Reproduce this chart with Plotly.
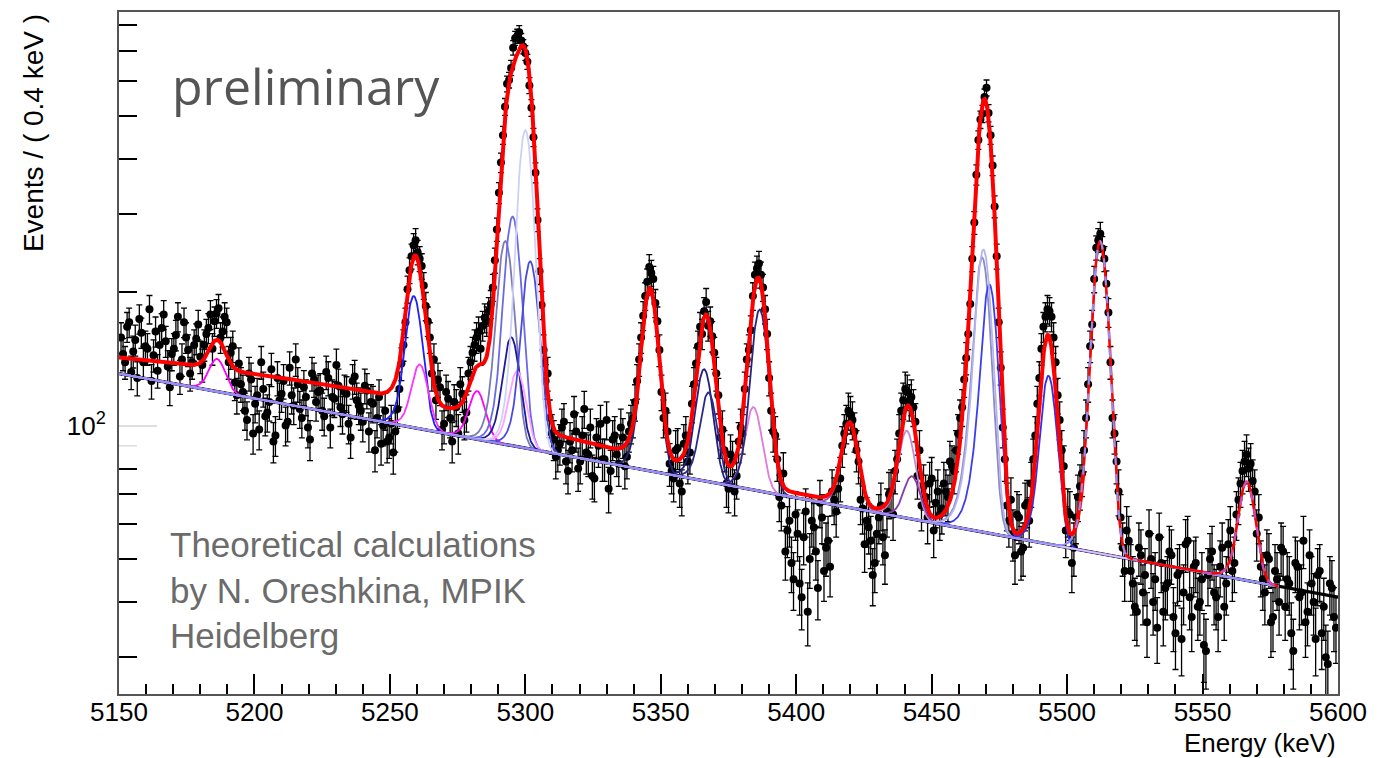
import numpy as np
import plotly.graph_objects as go

# ---------------- measured spectrum (counts per 0.4 keV bin) ----------------
# series 1: bins centred at 5150.75 + 1.5*i keV
grid1_first, grid1_step = 5150.75, 1.5
counts_a = [158, 139, 171, 147, 128, 162, 151, 183, 144, 133, 166, 155, 122, 149, 176, 141, 158, 131, 152, 169, 137,
            161, 178, 172, 184, 163, 171, 146, 125]
counts_b = [138, 119, 103, 127, 112, 98, 121, 107, 134, 95, 114, 126, 102, 117, 141, 109, 122, 99, 131, 113, 120, 105,
            128, 116, 137, 110, 119, 101, 126, 114, 108, 123, 97, 112, 104, 91, 108]
counts_c = [94, 87, 109, 138, 171, 224, 255, 246, 229, 186, 158, 141, 127, 98, 119, 104, 113]
counts_d = [96, 118, 107, 139, 152, 163, 168, 172, 188, 236, 335, 452, 590, 641, 748, 771, 716, 662, 521, 372, 223,
            148, 131, 96]
counts_e = [85, 91, 102, 79, 88, 97, 83, 109, 86, 77, 94, 101, 84, 72, 93, 86,
            99, 81, 97, 104, 126, 158, 196, 228, 214, 172, 119, 108, 82]
counts_f = [76, 89, 71, 95, 87, 124, 151, 161, 190, 172, 146, 117, 98, 74, 86, 71, 92, 96, 141, 164, 219, 232, 205,
            161, 108, 95, 69, 78]
counts_g = [58, 49, 63, 44, 56, 38, 61, 52, 67, 47, 55, 71, 64, 76, 96, 108, 103, 88, 68, 54, 59, 46, 57, 66, 51, 70,
            63, 84, 108, 121, 113, 110, 77, 66]
counts_h = [69, 74, 58, 71, 65, 71, 83, 79, 96, 110, 142, 188, 287, 441, 505, 578, 452, 312, 171, 99, 66, 68]
counts_i = [51, 62, 53, 67, 74, 95, 128, 167, 183, 176, 139, 103, 81, 64, 49, 62, 73, 88, 124, 169, 252, 271, 238,
            180, 104, 83, 62, 47]
counts_j = [55, 44, 38, 51, 46, 57, 40, 35, 49, 43, 52, 37, 46, 33, 54, 41, 48, 39,
            45, 31, 50, 42, 37, 53, 44, 58, 49, 68, 79, 86, 82, 71, 62, 45, 51, 36, 47, 40, 52, 45, 34, 49, 41, 55,
            38, 44, 33, 47, 39, 29, 43, 35]

# series 2: bins centred at 5151.5 + 1.5*j keV
grid2_first, grid2_step = 5151.5, 1.5
mid_a = [145, 167, 132, 156, 174, 139, 149, 126, 163, 152, 178, 136, 145, 160, 129, 171, 148, 139, 157, 143,
         152, 166, 149, 179, 158, 176, 139, 151, 117]
mid_b = [124, 108, 131, 96, 117, 139, 105, 113, 92, 128, 118, 100, 135, 111, 124, 104, 116, 93, 127, 119, 108, 132,
         99, 115, 123, 106, 118, 94, 129, 111, 102, 120, 113, 88, 116, 100]
mid_c = [92, 101, 97, 121, 152, 203, 241, 262, 238, 207, 172, 131, 114, 122, 101, 115, 92, 110, 124, 103, 131, 146,
         158, 149, 175, 181, 205, 277, 392, 524, 602, 712, 756, 739, 693, 585, 447, 291, 187, 126, 104, 93]
mid_d = [88, 99, 83, 92, 106, 80, 95, 87, 99, 76, 90, 84, 103, 79, 95]
mid_e = [82, 94, 85, 101, 113, 141, 177, 211, 221, 189, 148, 104, 97, 79, 88, 74, 91, 83, 112, 138, 167, 181, 168,
         159, 131, 94, 88, 72, 83, 77, 99, 121, 148, 196, 226, 219, 183, 128, 97, 84, 66]
mid_f = [52, 61, 45, 57, 41, 64, 50, 59, 43, 62, 53, 48, 68, 72, 90, 101, 106, 97, 83, 65, 61, 55, 49, 62, 56, 64]
mid_g = [71, 79, 96, 114, 119, 116, 102, 88, 73, 62, 76, 67, 63, 74, 69, 81, 88, 104, 127, 161, 238, 368, 490, 551,
         507, 386, 241, 135, 84, 61, 57, 63, 52, 66, 61, 84, 112, 149, 176, 181, 158, 117, 88, 58, 63, 53, 69, 78,
         104, 151, 214, 262, 251, 209, 139, 96, 71, 53, 58]
mid_h = [47, 39, 53, 42, 36, 50, 45, 56, 38, 44, 51, 34, 47, 42, 55, 37, 49, 40, 32, 46, 52, 41, 48, 39,
         54, 47, 63, 74, 83, 80, 75, 57, 48, 42,
         50, 37, 45, 53, 39, 44, 31, 48, 42, 36, 51, 40, 46, 34, 30, 44, 37]

counts1 = np.array(counts_a + counts_b + counts_c + counts_d + counts_e + counts_f + counts_g + counts_h
                   + counts_i + counts_j, dtype=float)
counts2 = np.array(mid_a + mid_b + mid_c + mid_d + mid_e + mid_f + mid_g + mid_h, dtype=float)
energy1 = grid1_first + grid1_step * np.arange(len(counts1))
energy2 = grid2_first + grid2_step * np.arange(len(counts2))
energy = np.concatenate([energy1, energy2])
counts = np.concatenate([counts1, counts2])

# ---------------- fit model parameters ----------------
bkg_energy = [5150, 5600]
bkg_level = [131, 41]
broad_center, broad_sigma, broad_height = 5220, 85, 16
fit_range = [5150, 5578]

peak_center = [5186.2, 5258.8, 5261.0, 5282.2, 5292.6, 5294.8, 5295.3, 5297.0, 5301.8,
               5346.0, 5366.0, 5367.6, 5384.2, 5386.5, 5419.7, 5440.8, 5442.7,
               5468.6, 5471.3, 5469.1, 5492.5, 5493.1, 5566.3, 5300.0, 5512.2]
peak_height = [22, 97, 39, 26.5, 170, 68, 206, 43, 146,
               120, 59, 44, 38.5, 111.6, 35.5, 35.5, 15.3,
               182, 151, 192, 31, 75.5, 30, 375, 209]
peak_sigma = [3.0, 3.0, 3.0, 3.0, 3.0, 3.0, 3.0, 3.0, 3.0,
              2.9, 3.0, 3.0, 3.0, 3.0, 2.9, 3.0, 3.0,
              2.9, 2.9, 2.9, 2.9, 2.9, 3.0, 2.9, 2.9]
peak_tail = [1.5, 1.5, 1.5, 1.5, 1.5, 1.5, 1.5, 1.5, 1.5,
             1.5, 1.5, 1.5, 1.5, 1.5, 1.5, 1.5, 1.5,
             1.1, 1.1, 1.1, 1.5, 1.5, 1.5, 1.5, 1.5]
peak_color = ["#ff00ff", "#1f1fff", "#ff33ff", "#ff00ff", "#7b7bb5", "#1a1a9a", "#6a6ae6", "#ffa0ff", "#4a4ae0",
              "#22227a", "#1f1f80", "#2a2a8a", "#e07ae0", "#262680", "#9b4fc0", "#c18ad8", "#8a3aa8",
              "#8a8ac8", "#3d3df0", "#b4b4f0", "#202090", "#2e2ef5", "#c54fc5", "#cfd0f7", "#8f8ff5"]
peak_drawn = [True] * 20 + [False] + [True] * 4


def background(e):
    frac = (e - bkg_energy[0]) / (bkg_energy[1] - bkg_energy[0])
    return bkg_level[0] * (bkg_level[1] / bkg_level[0]) ** frac


def line_shape(e, c, s, k):
    t = (e - c) / s
    return np.where(t >= -k, np.exp(-0.5 * t * t), np.exp(0.5 * k * k + k * t))


e_fine = np.linspace(fit_range[0], fit_range[1], 2141)
e_bkg = np.linspace(bkg_energy[0], bkg_energy[1], 400)
bkg_fine = background(e_fine)
broad = broad_height * np.exp(-0.5 * ((e_fine - broad_center) / broad_sigma) ** 2)
comps = [peak_height[i] * line_shape(e_fine, peak_center[i], peak_sigma[i], peak_tail[i])
         for i in range(len(peak_center))]
total = bkg_fine + broad + np.sum(comps, axis=0)

fig = go.Figure()

# data points
fig.add_trace(go.Scatter(
    x=energy, y=counts, mode="markers",
    marker=dict(color="black", size=8),
    error_y=dict(type="data", array=np.sqrt(counts), color="black", thickness=1.3, width=3),
    showlegend=False))

# background
fig.add_trace(go.Scatter(x=e_bkg, y=background(e_bkg), mode="lines",
                         line=dict(color="black", width=3.2), showlegend=False))

# individual components (background + one line)
for i in range(len(peak_center)):
    if not peak_drawn[i]:
        continue
    fig.add_trace(go.Scatter(x=e_fine, y=bkg_fine + comps[i], mode="lines",
                             line=dict(color=peak_color[i], width=1.8), showlegend=False))

# total fit
split = 5506
m1 = e_fine <= split
m2 = e_fine >= split
fig.add_trace(go.Scatter(x=e_fine[m1], y=total[m1], mode="lines",
                         line=dict(color="#ff0000", width=4), showlegend=False))
fig.add_trace(go.Scatter(x=e_fine[m2], y=total[m2], mode="lines",
                         line=dict(color="#ff0000", width=2.5), showlegend=False))

# components drawn over the thin part of the total
for i, (lo, hi) in [(len(peak_center) - 1, (5500, 5526)), (22, (5550, 5578))]:
    m = (e_fine >= lo) & (e_fine <= hi)
    fig.add_trace(go.Scatter(x=e_fine[m], y=(bkg_fine + comps[i])[m], mode="lines",
                             line=dict(color=peak_color[i], width=2, dash="dash"), showlegend=False))

# light grey tick at 90
fig.add_trace(go.Scatter(x=[5150, 5156.6], y=[90, 90], mode="lines",
                         line=dict(color="#dddddd", width=1.5), showlegend=False, hoverinfo="skip"))

x_major = list(range(5150, 5601, 50))
x_minor = [v for v in range(5160, 5600, 10) if v % 50 != 0]
y_minor = [30, 40, 50, 60, 70, 80, 200, 300, 400, 500, 600, 700, 800]

axis_font = dict(family="Liberation Sans, Arial, sans-serif", size=26, color="black")

fig.update_layout(
    width=1399, height=758,
    margin=dict(l=119, r=61, t=10, b=64),
    paper_bgcolor="white", plot_bgcolor="white",
    showlegend=False,
    xaxis=dict(range=[5150, 5600], tickvals=x_major, ticks="inside", ticklen=20, tickwidth=1.5,
               tickcolor="black", tickfont=axis_font, showgrid=False, zeroline=False,
               ticklabelstandoff=-6,
               linecolor="#555555", linewidth=2, mirror=True,
               minor=dict(tickvals=x_minor, ticks="inside", ticklen=10, tickwidth=1.5, tickcolor="black",
                          showgrid=False)),
    yaxis=dict(type="log", range=[np.log10(24.8), np.log10(857)], tickvals=[100],
               ticktext=["10<sup>2</sup>"], ticks="inside", ticklen=38, tickwidth=1.5, tickcolor="#dddddd",
               tickfont=axis_font, showgrid=False, zeroline=False, ticklabelstandoff=6,
               linecolor="#555555", linewidth=2, mirror=True,
               minor=dict(tickvals=y_minor, ticks="inside", ticklen=18, tickwidth=1.5, tickcolor="black",
                          showgrid=False)),
    annotations=[
        dict(text="Events / ( 0.4 keV )", xref="paper", yref="paper", x=-0.0705, y=1.0,
             xanchor="center", yanchor="top", textangle=-90, showarrow=False,
             font=dict(family="Liberation Sans, Arial, sans-serif", size=28, color="black")),
        dict(text="Energy (keV)", xref="paper", yref="paper", x=1.0, y=-0.0715,
             xanchor="right", yanchor="middle", showarrow=False, font=axis_font),
        dict(text="preliminary", xref="paper", yref="paper", x=0.0418, y=0.892,
             xanchor="left", yanchor="middle", showarrow=False,
             font=dict(family="Open Sans, sans-serif", size=50, color="#555555")),
        dict(text="Theoretical calculations<br>by N. Oreshkina, MPIK<br>Heidelberg",
             xref="paper", yref="paper", x=0.0402, y=0.152, xanchor="left", yanchor="middle",
             align="left", showarrow=False,
             font=dict(family="Liberation Sans, Arial, sans-serif", size=35, color="#6b6b6b")),
    ],
)

fig.write_html("out.html")
